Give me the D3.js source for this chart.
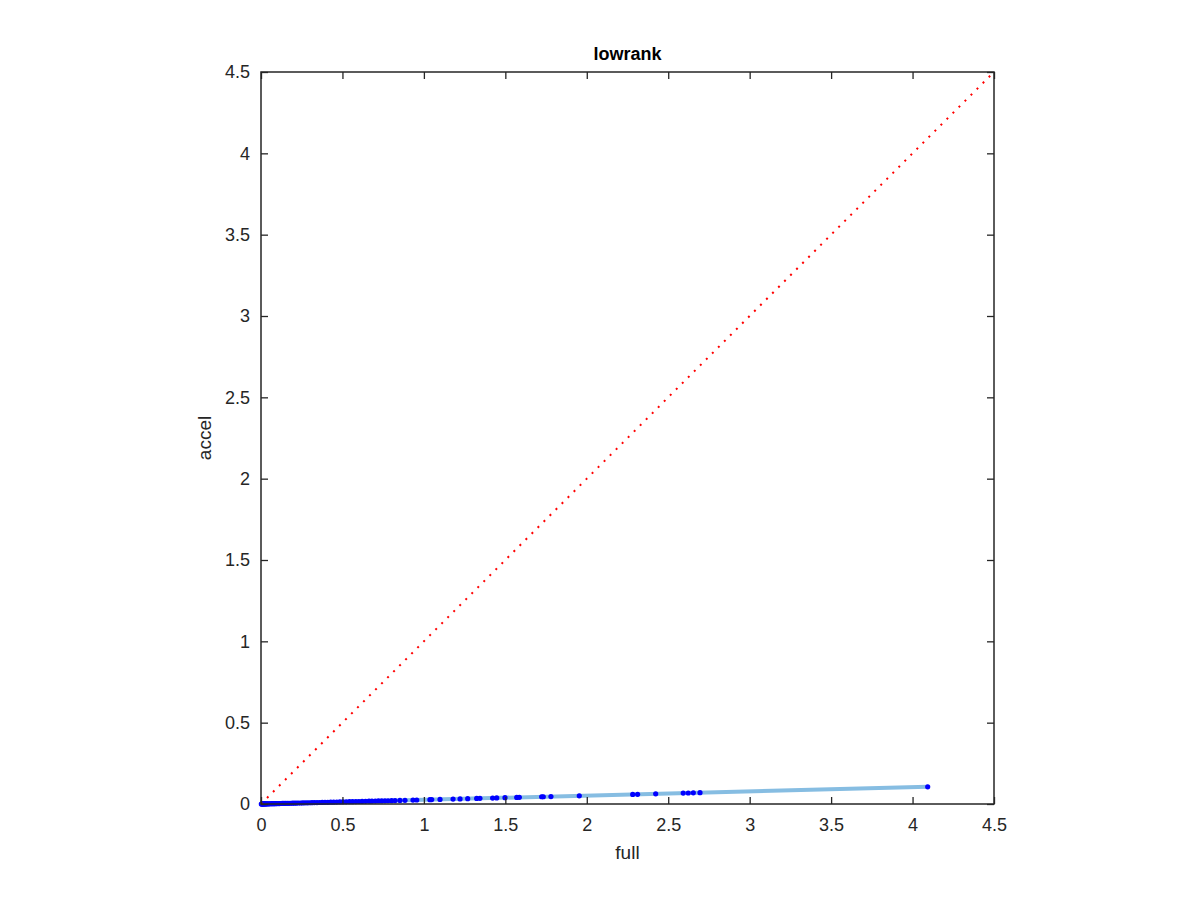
<!DOCTYPE html>
<html><head><meta charset="utf-8">
<script src="https://cdn.jsdelivr.net/npm/d3@7"></script>
<style>body{margin:0;background:#fff}svg{display:block}text{font-family:"Liberation Sans",Arial,Helvetica,sans-serif}</style>
</head><body>
<script>
const fullVals = [0.002,0.005,0.008,0.011,0.015,0.019,0.023,0.028,0.033,0.038,0.044,0.05,0.057,0.064,0.071,0.079,0.087,0.095,0.104,0.113,0.122,0.131,0.141,0.151,0.161,0.172,0.183,0.194,0.206,0.218,0.23,0.243,0.256,0.27,0.284,0.298,0.313,0.328,0.344,0.36,0.376,0.393,0.41,0.428,0.446,0.465,0.484,0.503,0.523,0.543,0.562,0.582,0.601,0.621,0.642,0.663,0.681,0.702,0.721,0.741,0.761,0.78,0.802,0.823,0.853,0.884,0.933,0.956,1.037,1.048,1.099,1.179,1.222,1.269,1.324,1.344,1.422,1.447,1.498,1.57,1.586,1.723,1.733,1.78,1.954,2.282,2.312,2.423,2.592,2.623,2.654,2.695,4.093];
const accelVals = [0.0001,0.0001,0.0002,0.0003,0.0004,0.0005,0.0006,0.0007,0.0009,0.001,0.0011,0.0013,0.0015,0.0017,0.0018,0.002,0.0023,0.0025,0.0027,0.0029,0.0031,0.0034,0.0036,0.0039,0.0042,0.0044,0.0047,0.005,0.0053,0.0056,0.006,0.0063,0.0066,0.007,0.0073,0.0077,0.0081,0.0085,0.0089,0.0093,0.0097,0.0101,0.0106,0.011,0.0115,0.012,0.0125,0.013,0.0135,0.014,0.0145,0.015,0.0155,0.016,0.0166,0.0171,0.0176,0.0181,0.0186,0.0191,0.0196,0.0201,0.0207,0.0212,0.022,0.0228,0.0241,0.0247,0.0268,0.027,0.0284,0.0304,0.0315,0.0327,0.0342,0.0347,0.0367,0.0373,0.0386,0.0405,0.0409,0.0445,0.0447,0.0459,0.0504,0.0589,0.0596,0.0625,0.0669,0.0677,0.0685,0.0695,0.1056];
const fitX = [0, 4.093];
const fitY = [0, 0.1056];
const diagX = [0, 4.5];
const diagY = [0, 4.5];
const tickVals = [0,0.5,1,1.5,2,2.5,3,3.5,4,4.5];
const tickLabels = ["0","0.5","1","1.5","2","2.5","3","3.5","4","4.5"];
const titleText = "lowrank", xLabel = "full", yLabel = "accel";

const W=1200,H=900, L=261, T=72, PW=733, PH=732;
const svg=d3.select("body").append("svg").attr("width",W).attr("height",H);
const x=d3.scaleLinear().domain([0,4.5]).range([L,L+PW]);
const y=d3.scaleLinear().domain([0,4.5]).range([T+PH,T]);
const axc="#262626";
const fmt=(d)=>tickLabels[tickVals.indexOf(d)];

const line=d3.line().x(d=>x(d[0])).y(d=>y(d[1]));
svg.append("path").datum(d3.zip(fitX,fitY)).attr("d",line).attr("fill","none").attr("stroke","#86bde2").attr("stroke-width",4);
svg.append("g").selectAll("circle").data(d3.zip(fullVals,accelVals)).join("circle")
  .attr("cx",d=>x(d[0])).attr("cy",d=>y(d[1])).attr("r",2.6).attr("fill","#0000ff");
svg.append("path").datum(d3.zip(diagX,diagY)).attr("d",line).attr("fill","none").attr("stroke","#ff0000").attr("stroke-width",2).attr("stroke-dasharray","2,6.5");

function styleAxis(g){g.select(".domain").remove();g.selectAll("line").attr("stroke",axc).attr("stroke-width",1.3);g.selectAll("text").attr("fill",axc).style("font-size","18px");}
svg.append("g").attr("transform",`translate(0,${T+PH})`).call(d3.axisBottom(x).tickValues(tickVals).tickFormat(fmt).tickSizeInner(-7).tickSizeOuter(0).tickPadding(14)).call(styleAxis);
svg.append("g").attr("transform",`translate(0,${T})`).call(d3.axisTop(x).tickValues(tickVals).tickFormat("").tickSizeInner(-7).tickSizeOuter(0)).call(styleAxis);
svg.append("g").attr("transform",`translate(${L},0)`).call(d3.axisLeft(y).tickValues(tickVals).tickFormat(fmt).tickSizeInner(-7).tickSizeOuter(0).tickPadding(11)).call(styleAxis);
svg.append("g").attr("transform",`translate(${L+PW},0)`).call(d3.axisRight(y).tickValues(tickVals).tickFormat("").tickSizeInner(-7).tickSizeOuter(0)).call(styleAxis);
svg.append("rect").attr("x",L).attr("y",T).attr("width",PW).attr("height",PH).attr("fill","none").attr("stroke",axc).attr("stroke-width",1.5);

svg.append("text").attr("x",L+PW/2).attr("y",60).attr("text-anchor","middle").style("font-size","18px").style("font-weight","bold").attr("fill","#000").text(titleText);
svg.append("text").attr("x",L+PW/2).attr("y",859).attr("text-anchor","middle").style("font-size","19px").attr("fill",axc).text(xLabel);
svg.append("text").attr("transform",`translate(211,${T+PH/2}) rotate(-90)`).attr("text-anchor","middle").style("font-size","19px").attr("fill",axc).text(yLabel);
</script>
</body></html>
